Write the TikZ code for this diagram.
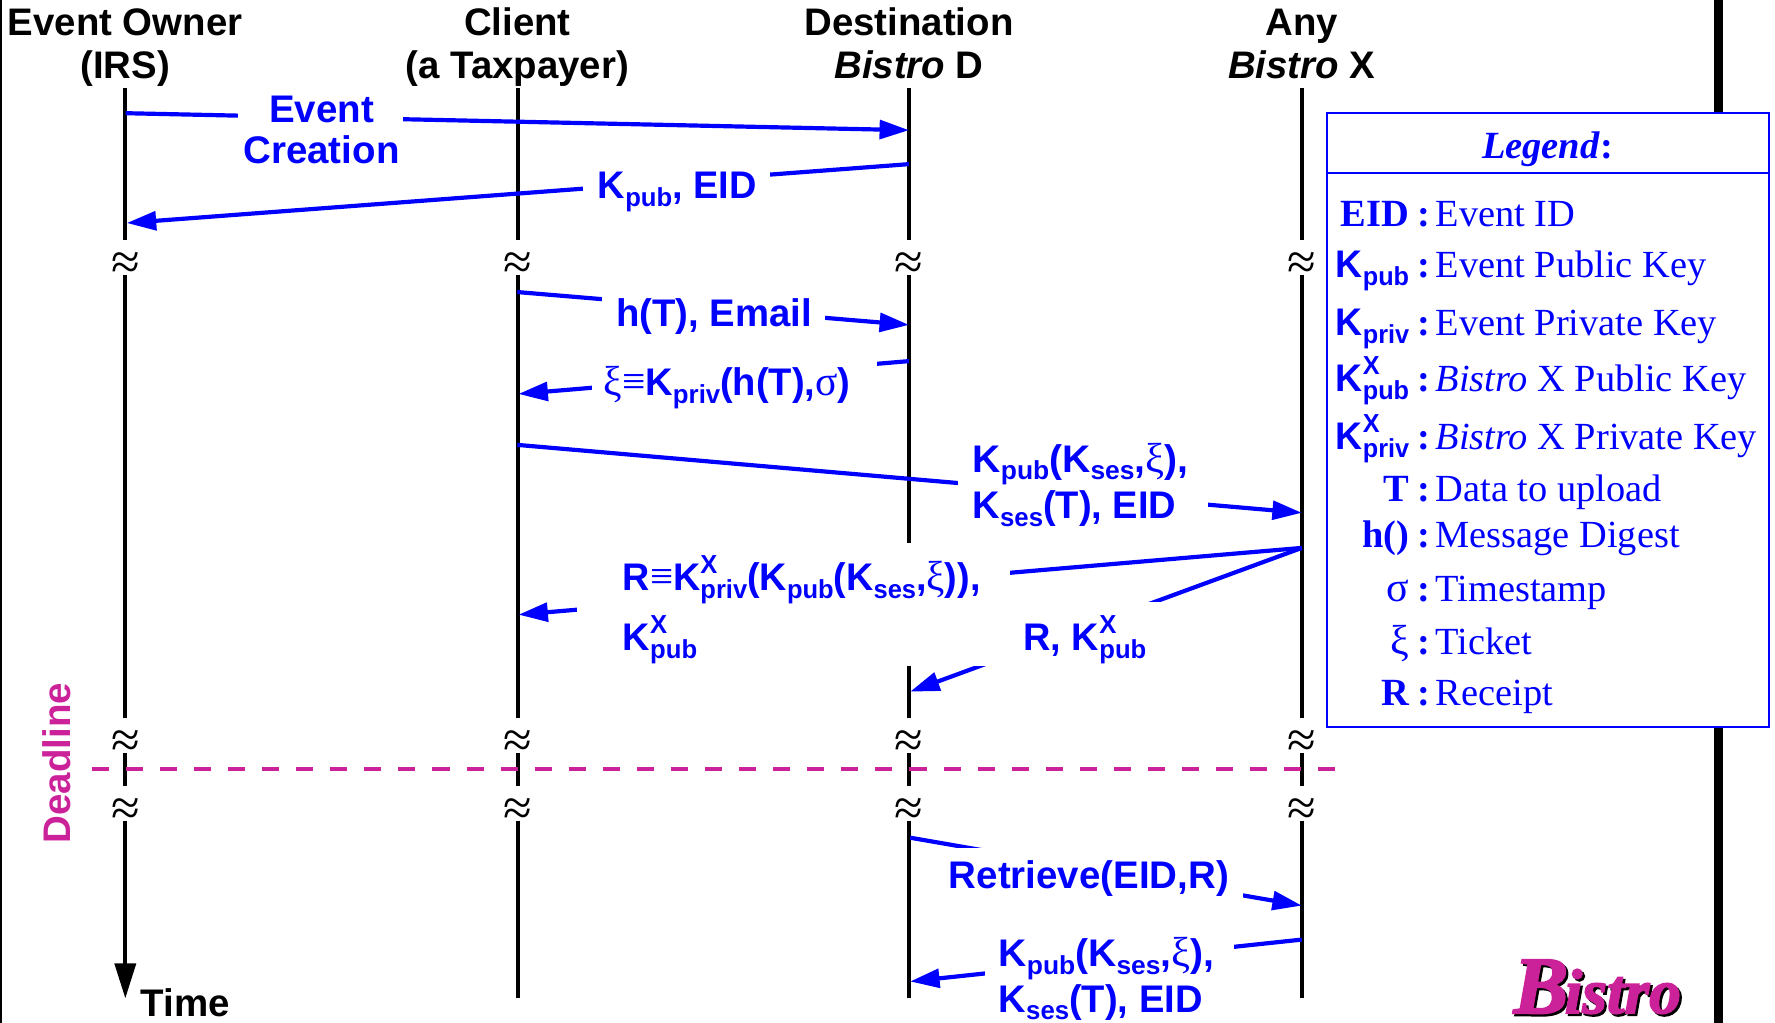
\documentclass[tikz,border=0pt]{standalone}
\usepackage{fontspec}
\usetikzlibrary{arrows.meta}
\setmainfont{Liberation Serif}
\setsansfont{Liberation Sans}
\newfontfamily\logof{Liberation Serif}[BoldItalicFeatures={FakeBold=2.5}]
\definecolor{dlpink}{HTML}{CC2299}
\definecolor{msgblue}{HTML}{0000FF}
\newcommand{\lowsub}[1]{\raisebox{-7pt}{\fontsize{23}{23}\selectfont #1}}
\newcommand{\KS}[1]{K\lowsub{#1}}
\newcommand{\KSX}[1]{K\rlap{\raisebox{15pt}{\fontsize{23}{23}\selectfont X}}\lowsub{#1}}
\newcommand{\sy}[1]{{\rmfamily\mdseries\fontsize{37}{38}\selectfont #1}}
\newcommand{\logotext}{{\fontsize{72}{72}\selectfont B}\kern-3pt{\fontsize{56}{60}\selectfont istro}}
\tikzset{
  lifeline/.style={line width=3.5pt,black},
  gapmark/.style={font=\rmfamily\fontsize{46}{46}\selectfont,inner sep=0pt,text=black},
  head/.style={font=\sffamily\bfseries\fontsize{33.9}{38}\selectfont,inner sep=0pt,anchor=base,text=black},
  msg/.style={line width=3.7pt,msgblue,-{Triangle[length=26pt,width=16.5pt]}},
  msgtext/.style={font=\sffamily\bfseries\fontsize{34}{38}\selectfont,text=msgblue,inner sep=0pt,anchor=base west},
  mask/.style={fill=white},
  legkey/.style={font=\sffamily\bfseries\fontsize{34}{38}\selectfont,text=msgblue,inner sep=0pt,anchor=base east},
  legkeys/.style={font=\rmfamily\bfseries\fontsize{34}{38}\selectfont,text=msgblue,inner sep=0pt,anchor=base east},
  legcol/.style={font=\rmfamily\bfseries\fontsize{34}{38}\selectfont,text=msgblue,inner sep=0pt,anchor=base},
  legval/.style={font=\rmfamily\fontsize{33.9}{38}\selectfont,text=msgblue,inner sep=0pt,anchor=base west},
}
\begin{document}
\begin{tikzpicture}[x=1pt,y=-1pt]
\useasboundingbox (0,0) rectangle (1568,903.7);
\fill[white] (0,0) rectangle (1568,903.7);
% frame lines
\draw[line width=2.5pt,black] (0.8,0) -- (0.8,903.7);
\draw[line width=8pt,black] (1518,0) -- (1518,903.7);
% headers
\node[head] (h1a) at (110.5,31.5) {Event Owner};
\node[head] (h1b) at (110.5,69.5) {(IRS)};
\node[head] (h2a) at (457,31.5) {Client};
\node[head] (h2b) at (457,69.5) {(a Taxpayer)};
\node[head] (h3a) at (803,31.5) {Destination};
\node[head] (h3b) at (803,69.5) {\textit{Bistro} D};
\node[head] (h4a) at (1150,31.5) {Any};
\node[head] (h4b) at (1150,69.5) {\textit{Bistro} X};
% lifeline anchor points
\foreach \n/\x in {a/110.7,b/457.2,c/803.2,d/1150}{
  \coordinate (\n0) at (\x,78);
  \coordinate (\n1) at (\x,212);
  \coordinate (\n2) at (\x,243);
  \coordinate (\n3) at (\x,634);
  \coordinate (\n4) at (\x,665);
  \coordinate (\n5) at (\x,694);
  \coordinate (\n6) at (\x,725);
  \coordinate (\n7) at (\x,882);
  \draw[lifeline] (\n0) -- (\n1);
  \draw[lifeline] (\n2) -- (\n3);
  \draw[lifeline] (\n4) -- (\n5);
  \node[gapmark] (gu\n) at (\x,235) {≈};
  \node[gapmark] (gm\n) at (\x,657) {≈};
  \node[gapmark] (gl\n) at (\x,717) {≈};
}
\draw[lifeline,-{Triangle[length=31pt,width=18.5pt]}] (a6) -- (a7);
\draw[lifeline] (b6) -- (b7);
\draw[lifeline] (c6) -- (c7);
\draw[lifeline] (d6) -- (d7);
% deadline
\coordinate (dlL) at (81,679.5);
\coordinate (dlR) at (1181,679.5);
\draw[line width=3.8pt,dlpink,dash pattern=on 15.1pt off 15pt] (dlL) -- (dlR);
\node[font=\sffamily\bfseries\fontsize{34}{38}\selectfont,text=dlpink,inner sep=0pt,rotate=90,anchor=base] (deadline) at (62,674) {Deadline};
\node[msgtext,text=black] (time) at (124,898) {Time};
% message end points
\coordinate (m1s) at (111,100);   \coordinate (m1e) at (803,115);
\coordinate (m2s) at (803,145);   \coordinate (m2e) at (112,197);
\coordinate (m3s) at (457,258);   \coordinate (m3e) at (803,287);
\coordinate (m4s) at (803,319);   \coordinate (m4e) at (458,348);
\coordinate (m5s) at (457,393);   \coordinate (m5e) at (1150,453);
\coordinate (m6s) at (1150,484);  \coordinate (m6e) at (458,543);
\coordinate (m7e) at (804,611);
\coordinate (m8s) at (804,740);   \coordinate (m8e) at (1150,800);
\coordinate (m9s) at (1150,830);  \coordinate (m9e) at (804,867);
\foreach \s/\e in {m1s/m1e,m2s/m2e,m3s/m3e,m4s/m4e,m5s/m5e,m6s/m6e,m6s/m7e,m8s/m8e,m9s/m9e}
  \draw[msg] (\s) -- (\e);
% gaps around the labels
\fill[mask] (210,80) rectangle (356,150);
\fill[mask] (515,140) rectangle (680,192);
\fill[mask] (532,255) rectangle (729,300);
\fill[mask] (523,312) rectangle (775,366);
\fill[mask] (846,395) rectangle (1067,470);
\fill[mask] (510,480) rectangle (892,588);
\fill[mask] (860,532) rectangle (1030,588);
\fill[mask] (830,749) rectangle (1098,800);
\fill[mask] (870,822) rectangle (1090,903);
% labels
\node[msgtext,anchor=base] (t1a) at (284,108) {Event};
\node[msgtext,anchor=base] (t1b) at (284,144) {Creation};
\node[msgtext,xscale=.985] (t2) at (528,175) {\KS{pub}, EID};
\node[msgtext,xscale=.995] (t3) at (544,288) {h(T), Email};
\node[msgtext,xscale=.99] (t4) at (533,349.5) {\sy{ξ≡}\KS{priv}(h(T),\sy{σ})};
\node[msgtext,xscale=1.015] (t5a) at (859,417) {\KS{pub}(\KS{ses},\sy{ξ}),};
\node[msgtext,xscale=.99] (t5b) at (859,458) {\KS{ses}(T), EID};
\node[msgtext,xscale=.98] (t6a) at (550,522) {R\sy{≡}\KSX{priv}(\KS{pub}(\KS{ses},\sy{ξ})),};
\node[msgtext,xscale=.985] (t6b) at (550,575) {\KSX{pub}};
\node[msgtext,xscale=.985] (t7) at (904,575) {R, \KSX{pub}};
\node[msgtext] (t8) at (838,785) {Retrieve(EID,R)};
\node[msgtext,xscale=1.015] (t9a) at (882,854) {\KS{pub}(\KS{ses},\sy{ξ}),};
\node[msgtext,xscale=.99] (t9b) at (882,894) {\KS{ses}(T), EID};
% legend
\node[draw=msgblue,line width=2pt,fill=white,minimum width=391pt,minimum height=542pt,inner sep=0pt,anchor=north west] (legend) at (1171,99) {};
\coordinate (lgl) at (1172,153);
\coordinate (lgr) at (1563,153);
\draw[msgblue,line width=2pt] (lgl) -- (lgr);
\node[font=\rmfamily\bfseries\fontsize{34}{38}\selectfont,text=msgblue,inner sep=0pt,anchor=base] (lgt) at (1367,140) {\textit{Legend}:};
\node[legkeys] (k1) at (1245,200) {EID};
\node[legkey,xscale=.97] (k2) at (1245,245) {\KS{pub}};
\node[legkey,xscale=.97] (k3) at (1245,296) {\KS{priv}};
\node[legkey,xscale=.97] (k4) at (1245,346) {\KSX{pub}};
\node[legkey,xscale=.97] (k5) at (1245,397) {\KSX{priv}};
\node[legkeys] (k6) at (1245,443) {T};
\node[legkeys] (k7) at (1245,484) {h()};
\node[legkeys] (k8) at (1245,531) {\sy{σ}};
\node[legkeys] (k9) at (1245,578) {\sy{ξ}};
\node[legkeys] (k10) at (1245,623) {R};
\foreach \i/\y in {1/200,2/245,3/296,4/346,5/397,6/443,7/484,8/531,9/578,10/623}
  \node[legcol] (c\i) at (1258,\y) {:};
\node[legval] (v1) at (1268,200) {Event ID};
\node[legval] (v2) at (1268,245) {Event Public Key};
\node[legval] (v3) at (1268,296) {Event Private Key};
\node[legval] (v4) at (1268,346) {\textit{Bistro} X Public Key};
\node[legval] (v5) at (1268,397) {\textit{Bistro} X Private Key};
\node[legval] (v6) at (1268,443) {Data to upload};
\node[legval] (v7) at (1268,484) {Message Digest};
\node[legval] (v8) at (1268,531) {Timestamp};
\node[legval] (v9) at (1268,578) {Ticket};
\node[legval] (v10) at (1268,623) {Receipt};
% logo
\node[font=\logof\bfseries\itshape,text=black,inner sep=0pt,anchor=base west] (logoshadow) at (1339,897) {\logotext};
\node[font=\logof\bfseries\itshape,text=dlpink,inner sep=0pt,anchor=base west] (logo) at (1337,895) {\logotext};
\end{tikzpicture}
\end{document}
